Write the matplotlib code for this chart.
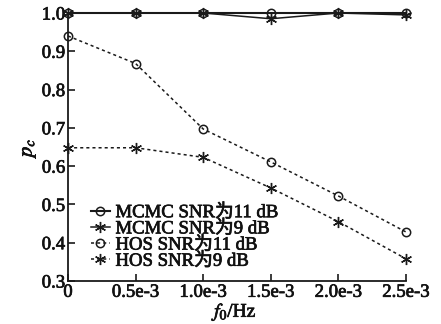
import matplotlib
matplotlib.use("Agg")
import matplotlib.pyplot as plt
import matplotlib.patheffects as pe

plt.rcParams['font.family'] = ['Liberation Serif', 'Noto Sans CJK SC']
plt.rcParams['mathtext.fontset'] = 'stix'

f0 = [0, 0.5e-3, 1.0e-3, 1.5e-3, 2.0e-3, 2.5e-3]
xtick_labels = ['0', '0.5e-3', '1.0e-3', '1.5e-3', '2.0e-3', '2.5e-3']
mcmc_11 = [1.0, 1.0, 1.0, 1.0, 1.0, 1.0]
mcmc_9 = [1.0, 1.0, 1.0, 0.985, 1.0, 0.995]
hos_11 = [0.94, 0.868, 0.697, 0.611, 0.522, 0.428]
hos_9 = [0.648, 0.648, 0.623, 0.543, 0.455, 0.358]
labels = ['MCMC SNR为11 dB', 'MCMC SNR为9 dB', 'HOS SNR为11 dB', 'HOS SNR为9 dB']

fig = plt.figure(figsize=(4.41, 3.24), dpi=100)
ax = fig.add_axes([68/441, 1-281/324, (406-68)/441, (281-13)/324])

col = '#1a1a1a'
ast = (6, 2, 0)
ax.plot(f0, mcmc_11, '-', color=col, lw=1.5, marker='o', mfc='none', mec=col, mew=1.1, ms=6, label=labels[0], clip_on=False)
ax.plot(f0, mcmc_9, '-', color=col, lw=1.1, marker=ast, mec=col, mew=1.0, ms=8, label=labels[1], clip_on=False)
ax.plot(f0, hos_11, linestyle=(0, (2, 2)), color=col, lw=1.1, marker='o', mfc='none', mec=col, mew=1.1, ms=6, label=labels[2], clip_on=False)
ax.plot(f0, hos_9, linestyle=(0, (2, 2)), color=col, lw=1.1, marker=ast, mec=col, mew=1.0, ms=8, label=labels[3], clip_on=False)

ax.set_xlim(0, 2.5e-3)
ax.set_ylim(0.3, 1.0)
ax.set_xticks(f0)
ax.set_xticklabels(xtick_labels)
ax.set_yticks([0.3, 0.4, 0.5, 0.6, 0.7, 0.8, 0.9, 1.0])
ax.set_yticklabels(['0.3', '0.4', '0.5', '0.6', '0.7', '0.8', '0.9', '1.0'])
for s in ['top', 'right']:
    ax.spines[s].set_visible(False)
for s in ['left', 'bottom']:
    ax.spines[s].set_linewidth(1.3)
    ax.spines[s].set_color(col)
ax.tick_params(direction='in', length=5, width=1.2, labelsize=13.5, pad=2, colors=col)
xl = ax.set_xlabel(r'$f_0$/Hz', fontsize=14, labelpad=0)
yl = ax.set_ylabel(r'$p_c$', fontsize=15, labelpad=3)

leg = ax.legend(loc='lower left', bbox_to_anchor=(0.035, 0.0), frameon=False, fontsize=13.5,
                handlelength=1.0, handletextpad=0.3, labelspacing=-0.05, borderaxespad=0.2)

stroke = [pe.withStroke(linewidth=0.5, foreground='#111')]
for t in ax.get_xticklabels() + ax.get_yticklabels() + leg.get_texts() + [xl, yl]:
    t.set_color('#111')
    t.set_path_effects(stroke)

fig.savefig('out.png', dpi=100)
